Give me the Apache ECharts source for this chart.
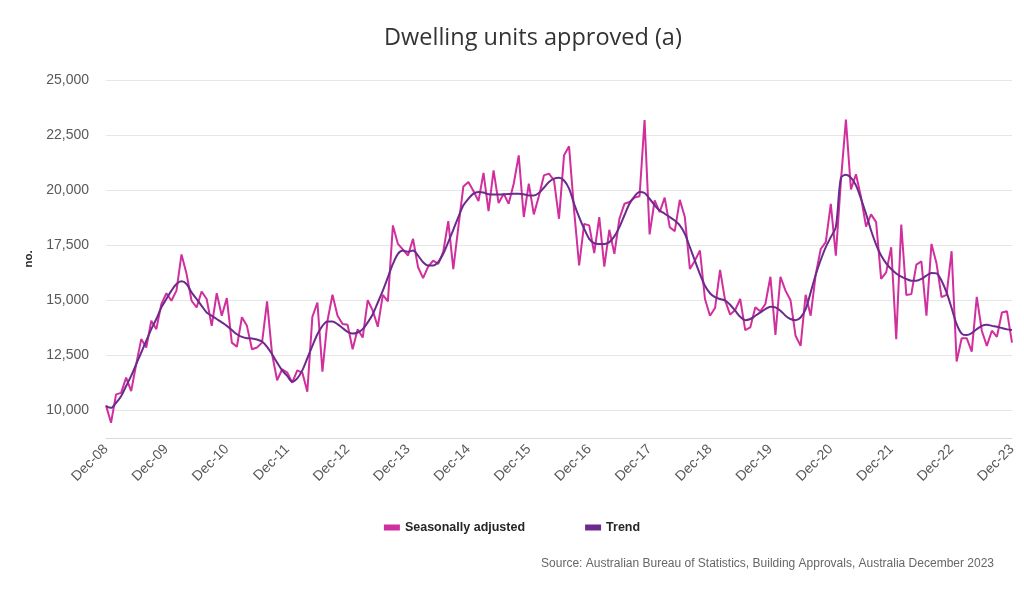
<!DOCTYPE html>
<html>
<head>
<meta charset="utf-8">
<script src="https://cdn.jsdelivr.net/npm/echarts@6/dist/echarts.min.js"></script>
<style>
html,body{margin:0;padding:0;background:#fff;}
#chart{width:1024px;height:589px;}
</style>
</head>
<body>
<div id="chart"></div>
<script>
// Category labels: monthly, Dec-08 to Dec-23
var monthNames = ['Jan','Feb','Mar','Apr','May','Jun','Jul','Aug','Sep','Oct','Nov','Dec'];
var categories = [];
for (var k = 0; k < 181; k++) {
  var m = (11 + k) % 12;
  var y = 8 + Math.floor((11 + k) / 12);
  categories.push(monthNames[m] + '-' + (y < 10 ? '0' + y : '' + y));
}

var seasonallyAdjusted = [
  10230, 9440, 10730, 10800, 11490, 10880, 12100, 13240, 12860, 14070, 13690, 14830,
  15320, 14980, 15440, 17080, 16200, 14980, 14680, 15400, 15060, 13840, 15320, 14300,
  15100, 13080, 12890, 14230, 13840, 12780, 12860, 13080, 14950, 12550, 11370, 11870,
  11720, 11260, 11820, 11720, 10850, 14250, 14900, 11760, 14070, 15250, 14300, 13920,
  13890, 12780, 13690, 13310, 15010, 14530, 13800, 15250, 14950, 18400, 17560, 17300,
  17030, 17790, 16500, 16010, 16530, 16800, 16650, 17200, 18590, 16420, 18320, 20170,
  20370, 19960, 19500, 20780, 19050, 20900, 19410, 19840, 19380, 20290, 21580, 18780,
  20290, 18900, 19720, 20670, 20750, 20450, 18700, 21580, 21990, 19080, 16580, 18470,
  18400, 17140, 18780, 16530, 18200, 17110, 18700, 19380, 19460, 19660, 19720, 23180,
  17990, 19530, 19000, 19660, 18320, 18140, 19560, 18780, 16420, 16800, 17260, 15060,
  14300, 14650, 16380, 15000, 14350, 14560, 15060, 13650, 13770, 14680, 14500, 14830,
  16070, 13430, 16070, 15440, 15000, 13390, 12930, 15250, 14300, 16160, 17330, 17640,
  19380, 17030, 20400, 23200, 20030, 20720, 19690, 18350, 18900, 18550, 15970, 16270,
  17410, 13240, 18440, 15240, 15280, 16620, 16770, 14300, 17560, 16680, 15140, 15250,
  17230, 12220, 13280, 13280, 12670, 15160, 13620, 12930, 13620, 13340, 14450, 14500,
  13080
];

var trend = [
  10200, 10120, 10350, 10650, 11110, 11570, 12100, 12630, 13160, 13690, 14150, 14680,
  15060, 15440, 15740, 15860, 15740, 15360, 15060, 14750, 14450, 14300, 14150, 14000,
  13840, 13650, 13460, 13340, 13280, 13270, 13220, 13130, 12890, 12550, 12170, 11820,
  11570, 11310, 11460, 11820, 12370, 12930, 13460, 13840, 14040, 14040, 13920, 13740,
  13570, 13490, 13540, 13690, 14000, 14370, 14900, 15440, 16040, 16650, 17110, 17260,
  17200, 17260, 17030, 16730, 16580, 16580, 16730, 17110, 17640, 18200, 18780, 19310,
  19610, 19840, 19920, 19890, 19810, 19800, 19800, 19810, 19820, 19840, 19840, 19810,
  19760, 19760, 19870, 20110, 20370, 20520, 20560, 20440, 20070, 19380, 18780, 18250,
  17790, 17590, 17560, 17560, 17640, 17900, 18320, 18860, 19380, 19720, 19920, 19870,
  19610, 19310, 19080, 18930, 18780, 18620, 18400, 18020, 17410, 16800, 16190, 15660,
  15320, 15140, 15060, 15000, 14800, 14530, 14250, 14100, 14150, 14300, 14450, 14600,
  14710, 14680, 14530, 14300, 14150, 14100, 14220, 14600, 15360, 16160, 16830, 17410,
  17870, 18320, 20550, 20700, 20570, 20220, 19610, 18930, 18170, 17530, 17030, 16680,
  16420, 16220, 16070, 15970, 15890, 15890, 15970, 16120, 16240, 16220, 15890, 15360,
  14650, 13920, 13490, 13420, 13510, 13690, 13840, 13890, 13840, 13800, 13740, 13680,
  13650
];

var titleText = 'Dwelling units approved (a)';
var sourceText = 'Source: Australian Bureau of Statistics, Building Approvals, Australia December 2023';
var seriesNames = ['Seasonally adjusted', 'Trend'];
var yAxisName = 'no.';

var chart = echarts.init(document.getElementById('chart'), null, {renderer: 'canvas'});
chart.setOption({
  backgroundColor: '#ffffff',
  animation: false,
  title: {
    text: titleText,
    left: 379,
    top: 21,
    textStyle: {fontFamily: 'Open Sans', fontSize: 23.5, fontWeight: 'normal', color: '#333333'}
  },
  legend: {
    bottom: 50,
    left: 'center',
    icon: 'rect',
    itemWidth: 16,
    itemHeight: 6,
    itemGap: 60,
    itemTextGap: 6,
    textStyle: {fontFamily: 'Liberation Sans', fontSize: 12.5, fontWeight: 'bold', color: '#262626'},
    data: seriesNames
  },
  graphic: [{
    type: 'text',
    right: 30,
    top: 558,
    style: {text: sourceText, font: '12px "Liberation Sans", Arial, sans-serif', fill: '#666666'}
  }],
  grid: {left: 106, right: 12, top: 80, bottom: 151},
  xAxis: {
    type: 'category',
    data: categories,
    boundaryGap: false,
    axisLine: {lineStyle: {color: '#d9d9d9', width: 1}},
    axisTick: {show: false},
    axisLabel: {
      interval: 11,
      rotate: 45,
      margin: 9,
      fontFamily: 'Liberation Sans',
      fontSize: 14,
      color: '#595959'
    },
    splitLine: {show: false}
  },
  yAxis: {
    type: 'value',
    min: 8750,
    max: 25000,
    interval: 1250,
    name: yAxisName,
    nameLocation: 'middle',
    nameRotate: 90,
    nameGap: 71,
    nameTextStyle: {fontFamily: 'Liberation Sans', fontSize: 11.5, fontWeight: 'bold', color: '#262626'},
    axisLine: {show: false},
    axisTick: {show: false},
    axisLabel: {
      margin: 17,
      fontFamily: 'Liberation Sans',
      fontSize: 14,
      color: '#595959',
      formatter: function (v) {
        if (v % 2500 !== 0) return '';
        return v.toLocaleString('en-US');
      }
    },
    splitLine: {lineStyle: {color: ['rgba(0,0,0,0)', '#e6e6e6'], width: 1}}
  },
  series: [
    {
      name: seriesNames[0],
      type: 'line',
      data: seasonallyAdjusted,
      showSymbol: false,
      symbol: 'none',
      lineStyle: {color: '#d02f9d', width: 2},
      itemStyle: {color: '#d02f9d'},
      z: 2
    },
    {
      name: seriesNames[1],
      type: 'line',
      data: trend,
      showSymbol: false,
      symbol: 'none',
      smooth: 0.3,
      lineStyle: {color: '#6b2a8c', width: 2},
      itemStyle: {color: '#6b2a8c'},
      z: 3
    }
  ]
});
</script>
</body>
</html>
